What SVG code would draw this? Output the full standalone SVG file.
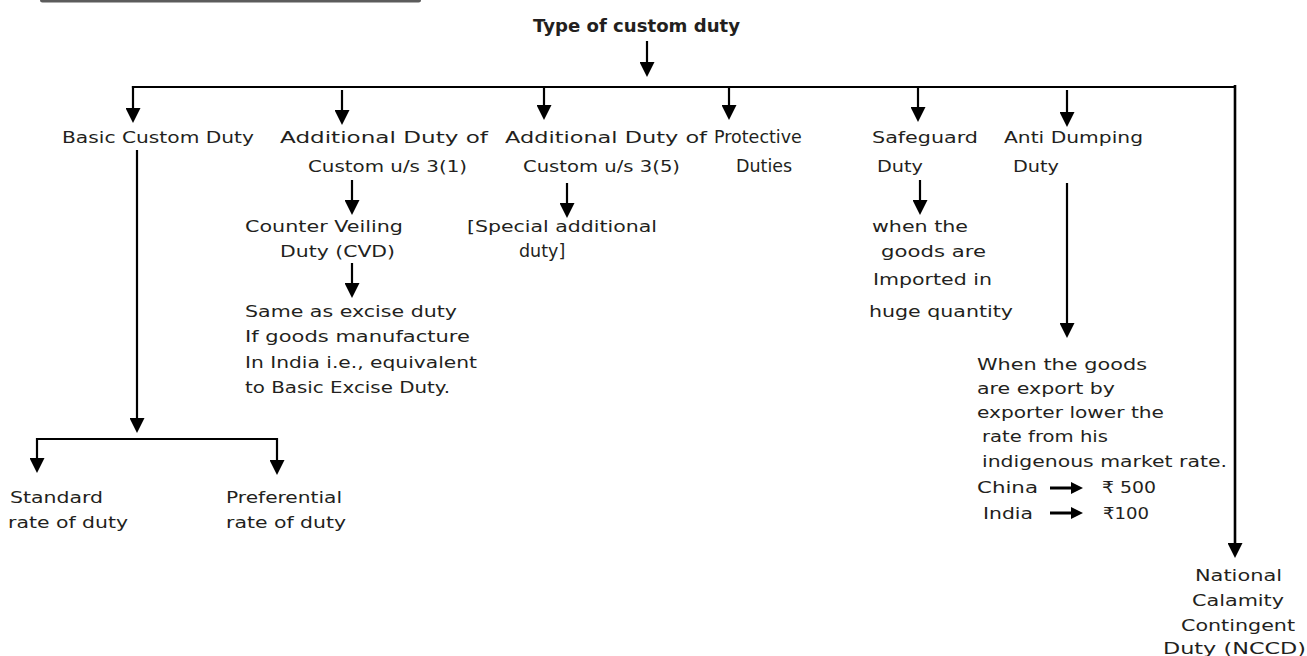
<svg xmlns="http://www.w3.org/2000/svg" width="1307" height="656" viewBox="0 0 1307 656">
<defs>
<style>
text{font-family:"DejaVu Sans","Noto Sans",sans-serif;font-size:16.5px;fill:#231f20;}
.title{font-weight:bold;font-size:17px;}
.big{font-size:17.5px;}
.ln{stroke:#000;stroke-width:2.2;fill:none;}
.arr{stroke:#000;stroke-width:2.2;fill:none;marker-end:url(#ah);}
.sarr{stroke:#000;stroke-width:3;fill:none;marker-end:url(#sh);}
</style>
<marker id="ah" viewBox="0 0 15 15" refX="9" refY="7.5" markerWidth="15" markerHeight="15" markerUnits="userSpaceOnUse" orient="auto">
<path d="M0,0 L15,7.5 L0,15 z" fill="#000"/>
</marker>
<marker id="sh" viewBox="0 0 12 12" refX="6" refY="6" markerWidth="12" markerHeight="12" markerUnits="userSpaceOnUse" orient="auto">
<path d="M0,0 L12,6 L0,12 z" fill="#000"/>
</marker>
</defs>
<rect x="40" y="-8" width="381" height="10.5" rx="2.5" fill="#5c5c5c"/>

<g id="connectors">
<line class="arr" x1="647" y1="41" x2="647" y2="71"/>
<path class="ln" d="M133,88 V87 H1235"/>
<line class="arr" x1="133" y1="86" x2="133" y2="117"/>
<line class="arr" x1="342" y1="90" x2="342" y2="119"/>
<line class="arr" x1="544" y1="87" x2="544" y2="114"/>
<line class="arr" x1="729" y1="87" x2="729" y2="114"/>
<line class="arr" x1="918" y1="87" x2="918" y2="116"/>
<line class="arr" x1="1067" y1="90" x2="1067" y2="121"/>
<line class="arr" x1="1235" y1="85" x2="1235" y2="552" style="stroke-width:2.6"/>
<line class="arr" x1="352" y1="180" x2="352" y2="209"/>
<line class="arr" x1="567" y1="183" x2="567" y2="212"/>
<line class="arr" x1="920" y1="180" x2="920" y2="209"/>
<line class="arr" x1="1067" y1="183" x2="1067" y2="332"/>
<line class="arr" x1="352" y1="263" x2="352" y2="292"/>
<line class="arr" x1="137" y1="150" x2="137" y2="427"/>
<line class="ln" x1="36" y1="439" x2="278" y2="439"/>
<line class="arr" x1="37" y1="438" x2="37" y2="467"/>
<line class="arr" x1="277" y1="438" x2="277" y2="469"/>
<line class="sarr" x1="1050" y1="488" x2="1077" y2="488"/>
<line class="sarr" x1="1050" y1="513" x2="1077" y2="513"/>
</g>

<g id="title"><text class="title" x="533" y="32" textLength="207" lengthAdjust="spacingAndGlyphs">Type of custom duty</text></g>

<g id="basic"><text x="62" y="143" textLength="192" lengthAdjust="spacingAndGlyphs">Basic Custom Duty</text></g>

<g id="add31">
<text x="280" y="143" textLength="208" lengthAdjust="spacingAndGlyphs">Additional Duty of</text>
<text x="308" y="172" textLength="159" lengthAdjust="spacingAndGlyphs">Custom u/s 3(1)</text>
</g>

<g id="add35">
<text x="505" y="143" textLength="202" lengthAdjust="spacingAndGlyphs">Additional Duty of</text>
<text x="523" y="172" textLength="157" lengthAdjust="spacingAndGlyphs">Custom u/s 3(5)</text>
</g>

<g id="protective">
<text class="big" x="714" y="143">Protective</text>
<text class="big" x="736" y="172">Duties</text>
</g>

<g id="safeguard">
<text x="872" y="143" textLength="106" lengthAdjust="spacingAndGlyphs">Safeguard</text>
<text x="877" y="172" textLength="46" lengthAdjust="spacingAndGlyphs">Duty</text>
</g>

<g id="antidumping">
<text x="1004" y="143" textLength="139" lengthAdjust="spacingAndGlyphs">Anti Dumping</text>
<text x="1013" y="172" textLength="46" lengthAdjust="spacingAndGlyphs">Duty</text>
</g>

<g id="cvd">
<text x="245" y="232" textLength="158" lengthAdjust="spacingAndGlyphs">Counter Veiling</text>
<text x="280" y="257" textLength="115" lengthAdjust="spacingAndGlyphs">Duty (CVD)</text>
</g>

<g id="sad">
<text x="467" y="232" textLength="190" lengthAdjust="spacingAndGlyphs">[Special additional</text>
<text class="big" x="519" y="257">duty]</text>
</g>

<g id="cvd-desc">
<text x="245" y="317" textLength="212" lengthAdjust="spacingAndGlyphs">Same as excise duty</text>
<text x="245" y="342" textLength="225" lengthAdjust="spacingAndGlyphs">If goods manufacture</text>
<text x="245" y="368" textLength="232" lengthAdjust="spacingAndGlyphs">In India i.e., equivalent</text>
<text x="245" y="393" textLength="205" lengthAdjust="spacingAndGlyphs">to Basic Excise Duty.</text>
</g>

<g id="safeguard-desc">
<text x="872" y="232" textLength="96" lengthAdjust="spacingAndGlyphs">when the</text>
<text x="881" y="257" textLength="105" lengthAdjust="spacingAndGlyphs">goods are</text>
<text x="873" y="285" textLength="119" lengthAdjust="spacingAndGlyphs">Imported in</text>
<text x="869" y="317" textLength="144" lengthAdjust="spacingAndGlyphs">huge quantity</text>
</g>

<g id="antidumping-desc">
<text x="977" y="370" textLength="170" lengthAdjust="spacingAndGlyphs">When the goods</text>
<text x="977" y="394" textLength="138" lengthAdjust="spacingAndGlyphs">are export by</text>
<text x="977" y="418" textLength="187" lengthAdjust="spacingAndGlyphs">exporter lower the</text>
<text x="982" y="442" textLength="126" lengthAdjust="spacingAndGlyphs">rate from his</text>
<text x="982" y="467" textLength="245" lengthAdjust="spacingAndGlyphs">indigenous market rate.</text>
<text x="977" y="493" textLength="61" lengthAdjust="spacingAndGlyphs">China</text>
<text x="1102" y="493" textLength="54" lengthAdjust="spacingAndGlyphs">₹ 500</text>
<text x="983" y="519" textLength="50" lengthAdjust="spacingAndGlyphs">India</text>
<text x="1103" y="519" textLength="46" lengthAdjust="spacingAndGlyphs">₹100</text>
</g>

<g id="nccd">
<text x="1195" y="581" textLength="87" lengthAdjust="spacingAndGlyphs">National</text>
<text x="1192" y="606" textLength="92" lengthAdjust="spacingAndGlyphs">Calamity</text>
<text x="1181" y="631" textLength="114" lengthAdjust="spacingAndGlyphs">Contingent</text>
<text x="1163" y="654" textLength="143" lengthAdjust="spacingAndGlyphs">Duty (NCCD)</text>
</g>

<g id="standard">
<text x="10" y="503" textLength="93" lengthAdjust="spacingAndGlyphs">Standard</text>
<text x="8" y="528" textLength="120" lengthAdjust="spacingAndGlyphs">rate of duty</text>
</g>

<g id="preferential">
<text x="226" y="503" textLength="116" lengthAdjust="spacingAndGlyphs">Preferential</text>
<text x="226" y="528" textLength="120" lengthAdjust="spacingAndGlyphs">rate of duty</text>
</g>
</svg>
